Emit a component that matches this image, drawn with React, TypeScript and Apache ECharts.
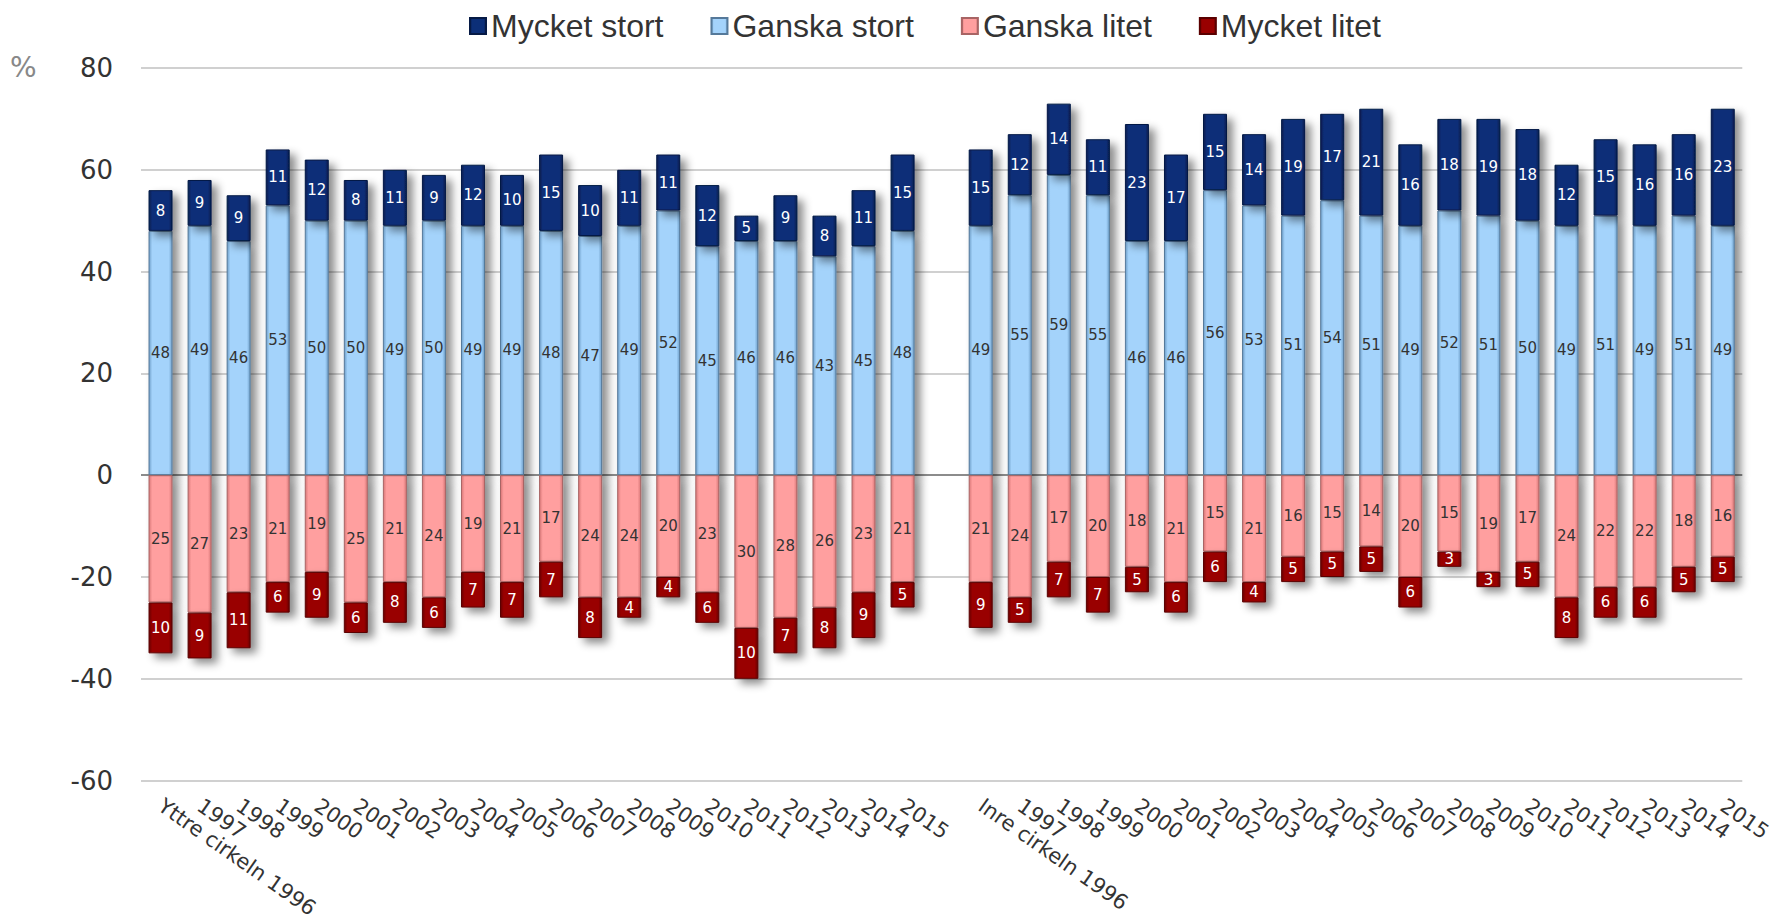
import React, { useEffect, useRef } from "react";
import * as echarts from "echarts";

const categoriesYttre = ["Yttre cirkeln 1996", "1997", "1998", "1999", "2000", "2001", "2002", "2003", "2004", "2005", "2006", "2007", "2008", "2009", "2010", "2011", "2012", "2013", "2014", "2015"];
const categoriesInre = ["Inre cirkeln 1996", "1997", "1998", "1999", "2000", "2001", "2002", "2003", "2004", "2005", "2006", "2007", "2008", "2009", "2010", "2011", "2012", "2013", "2014", "2015"];

const yttreMycketStort = [8, 9, 9, 11, 12, 8, 11, 9, 12, 10, 15, 10, 11, 11, 12, 5, 9, 8, 11, 15];
const yttreGanskaStort = [48, 49, 46, 53, 50, 50, 49, 50, 49, 49, 48, 47, 49, 52, 45, 46, 46, 43, 45, 48];
const yttreGanskaLitet = [25, 27, 23, 21, 19, 25, 21, 24, 19, 21, 17, 24, 24, 20, 23, 30, 28, 26, 23, 21];
const yttreMycketLitet = [10, 9, 11, 6, 9, 6, 8, 6, 7, 7, 7, 8, 4, 4, 6, 10, 7, 8, 9, 5];

const inreMycketStort = [15, 12, 14, 11, 23, 17, 15, 14, 19, 17, 21, 16, 18, 19, 18, 12, 15, 16, 16, 23];
const inreGanskaStort = [49, 55, 59, 55, 46, 46, 56, 53, 51, 54, 51, 49, 52, 51, 50, 49, 51, 49, 51, 49];
const inreGanskaLitet = [21, 24, 17, 20, 18, 21, 15, 21, 16, 15, 14, 20, 15, 19, 17, 24, 22, 22, 18, 16];
const inreMycketLitet = [9, 5, 7, 7, 5, 6, 6, 4, 5, 5, 5, 6, 3, 3, 5, 8, 6, 6, 5, 5];

const yTicks = { min: -60, max: 80, interval: 20 };

function grad(edge: string, mid: string) {
  return new echarts.graphic.LinearGradient(0, 0, 1, 0, [
    { offset: 0, color: edge },
    { offset: 0.14, color: mid },
    { offset: 0.86, color: mid },
    { offset: 1, color: edge },
  ]);
}

export default function App() {
  const ref = useRef<HTMLDivElement>(null);
  useEffect(() => {
    if (!ref.current) return;
    const chart = echarts.init(ref.current, null, { renderer: "svg" });
    const categories = [...categoriesYttre, "", ...categoriesInre];
    const join = (a: number[], b: number[], sign: number) => [
      ...a.map((v) => v * sign),
      null,
      ...b.map((v) => v * sign),
    ];
    const font = "'DejaVu Sans', Verdana, sans-serif";
    const shadow = {
      shadowColor: "rgba(0,0,0,0.45)",
      shadowBlur: 8,
      shadowOffsetX: 6,
      shadowOffsetY: 5,
    };
    const mk = (name: string, data: any[], edge: string, mid: string, border: string, labelColor: string) => ({
      name,
      type: "bar",
      stack: "total",
      barWidth: 24,
      data,
      itemStyle: { color: grad(edge, mid), borderColor: border, borderWidth: 1, ...shadow },
      label: {
        show: true,
        position: "inside",
        color: labelColor,
        fontSize: 15,
        fontFamily: font,
        formatter: (p: any) => (p.value == null ? "" : String(Math.abs(p.value))),
      },
    });
    const option: any = {
      animation: false,
      backgroundColor: "#ffffff",
      legend: {
        data: ["Mycket stort", "Ganska stort", "Ganska litet", "Mycket litet"],
        left: 464,
        top: 5,
        itemWidth: 16,
        itemHeight: 16,
        itemGap: 47,
        icon: "rect",
        textStyle: { fontSize: 32, color: "#333", fontFamily: "'Liberation Sans', Arial, sans-serif" },
      },
      grid: { left: 141, right: 32, top: 68, bottom: 132, containLabel: false },
      xAxis: {
        type: "category",
        data: categories,
        axisLine: { show: false },
        axisTick: { show: false },
        axisLabel: {
          interval: 0,
          rotate: -35,
          fontSize: 21,
          color: "#333",
          fontFamily: font,
          margin: 23,
        },
      },
      yAxis: {
        type: "value",
        min: yTicks.min,
        max: yTicks.max,
        interval: yTicks.interval,
        axisLine: { show: false },
        axisTick: { show: false },
        axisLabel: { fontSize: 26, color: "#333", fontFamily: font, margin: 28 },
        splitLine: {
          lineStyle: {
            width: 2,
            color: ["#d0d0d0", "#d0d0d0", "#d0d0d0", "#8c8c8c", "#d0d0d0", "#d0d0d0", "#d0d0d0", "#d0d0d0"],
          },
        },
      },
      graphic: [
        {
          type: "text",
          left: 10,
          top: 53,
          style: { text: "%", fontSize: 28, fill: "#888", fontFamily: font },
        },
      ],
      series: [
        mk("Ganska stort", join(yttreGanskaStort, inreGanskaStort, 1), "#6f9fc9", "#a4d3fb", "#55799a", "#333"),
        mk("Mycket stort", join(yttreMycketStort, inreMycketStort, 1), "#071d4f", "#0c2f78", "#061a45", "#fff"),
        mk("Ganska litet", join(yttreGanskaLitet, inreGanskaLitet, -1), "#d97878", "#ff9f9f", "#a86464", "#333"),
        mk("Mycket litet", join(yttreMycketLitet, inreMycketLitet, -1), "#6a0000", "#990000", "#5a0000", "#fff"),
      ],
    };
    chart.setOption(option);
    return () => chart.dispose();
  }, []);
  return <div ref={ref} style={{ position: "fixed", left: 0, top: 0, width: "100vw", height: "100vh" }} />;
}
